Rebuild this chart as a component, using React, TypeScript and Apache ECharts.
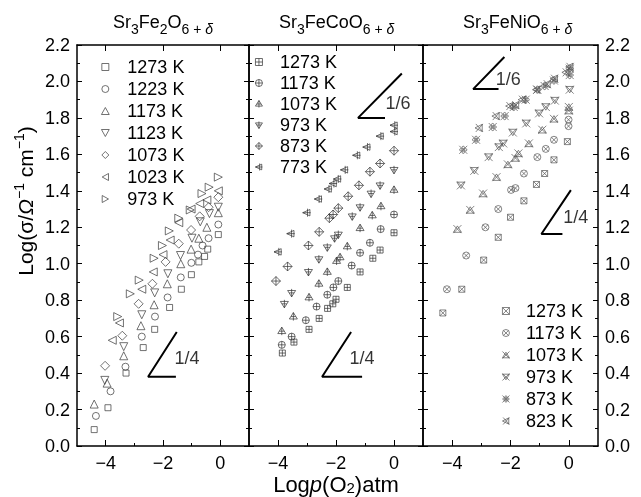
import React, { useEffect, useRef } from 'react';
import * as echarts from 'echarts';

const FONT = "'Liberation Sans', Arial, Helvetica, sans-serif";

// ---------- Panel 1: Sr3Fe2O6+δ ----------
const p1_1273 = [[-4.4,0.09],[-3.92,0.21],[-3.29,0.40],[-2.69,0.54],[-2.29,0.64],[-1.77,0.76],[-1.36,0.86],[-1.01,0.94],[-0.75,1.01],[-0.55,1.04],[-0.44,1.08],[-0.07,1.16]];
const p1_1223 = [[-4.34,0.165],[-3.83,0.30],[-3.31,0.435],[-2.74,0.60],[-2.28,0.71],[-1.84,0.815],[-1.38,0.925],[-1.01,1.005],[-0.78,1.05],[-0.62,1.10],[-0.41,1.14],[-0.07,1.215]];
const p1_1173 = [[-4.40,0.23],[-3.95,0.345],[-3.37,0.495],[-2.77,0.66],[-2.31,0.775],[-1.85,0.89],[-1.38,1.0],[-1.02,1.08],[-0.75,1.14],[-0.47,1.20],[-0.07,1.28]];
const p1_1123 = [[-4.03,0.36],[-3.37,0.545],[-2.74,0.72],[-2.29,0.84],[-1.83,0.945],[-1.39,1.045],[-0.99,1.14],[-0.70,1.23],[-0.38,1.275],[-0.07,1.31]];
const p1_1073 = [[-4.02,0.44],[-3.42,0.605],[-2.85,0.78],[-2.37,0.89],[-1.91,1.01],[-1.45,1.11],[-1.02,1.185],[-0.72,1.26],[-0.41,1.31],[-0.07,1.365]];
const p1_1023 = [[-3.77,0.58],[-3.52,0.675],[-2.74,0.86],[-2.34,0.955],[-2.0,1.05],[-1.75,1.13],[-1.45,1.225],[-1.02,1.30],[-0.72,1.33],[-0.47,1.35],[-0.07,1.40]];
const p1_973 = [[-3.58,0.71],[-3.14,0.835],[-2.83,0.91],[-2.31,1.03],[-2.02,1.10],[-1.78,1.18],[-1.45,1.25],[-1.05,1.295],[-0.64,1.385],[-0.39,1.42],[-0.07,1.475]];

// ---------- Panel 2: Sr3FeCoO6+δ ----------
const p2_1273 = [[-3.85,0.51],[-3.45,0.57],[-2.93,0.64],[-2.58,0.70],[-2.29,0.755],[-2.11,0.78],[-2.0,0.805],[-1.61,0.87],[-1.17,0.955],[-0.73,1.03],[-0.48,1.075],[0.0,1.17]];
const p2_1173 = [[-3.87,0.555],[-3.53,0.60],[-3.04,0.69],[-2.67,0.765],[-2.30,0.83],[-2.09,0.87],[-1.92,0.905],[-1.46,0.99],[-1.17,1.06],[-0.83,1.115],[-0.46,1.19],[0.0,1.27]];
const p2_1073 = [[-3.87,0.63],[-3.47,0.71],[-2.93,0.815],[-2.59,0.89],[-2.30,0.955],[-1.98,1.015],[-1.86,1.035],[-1.61,1.095],[-1.17,1.195],[-0.75,1.265],[-0.45,1.315],[0.0,1.405]];
const p2_973 = [[-3.78,0.78],[-3.53,0.84],[-2.95,0.955],[-2.59,1.025],[-2.30,1.09],[-2.05,1.14],[-1.92,1.16],[-1.44,1.26],[-1.17,1.31],[-0.79,1.385],[-0.48,1.43],[0.0,1.515]];
const p2_873 = [[-4.07,0.905],[-3.67,0.985],[-2.95,1.10],[-2.58,1.175],[-2.23,1.25],[-2.10,1.27],[-1.92,1.305],[-1.58,1.37],[-1.21,1.43],[-0.83,1.505],[-0.48,1.55],[0.0,1.62]];
const p2_773 = [[-4.0,1.065],[-3.56,1.165],[-3.01,1.28],[-2.61,1.355],[-2.27,1.41],[-2.1,1.44],[-1.95,1.465],[-1.71,1.515],[-1.29,1.595],[-0.94,1.64],[-0.48,1.70],[0.0,1.725],[0.0,1.76]];

// ---------- Panel 3: Sr3FeNiO6+δ ----------
const p3_1273 = [[-4.32,0.73],[-3.67,0.86],[-2.92,1.02],[-2.42,1.145],[-2.0,1.255],[-1.54,1.345],[-1.11,1.435],[-0.83,1.495],[-0.51,1.57],[-0.05,1.67]];
const p3_1173 = [[-4.18,0.86],[-3.52,1.045],[-2.86,1.20],[-2.42,1.30],[-1.98,1.405],[-1.83,1.415],[-1.54,1.495],[-1.08,1.585],[-0.79,1.63],[-0.51,1.68],[-0.01,1.755],[-0.01,1.79]];
const p3_1073 = [[-3.82,1.19],[-3.38,1.295],[-2.94,1.385],[-2.48,1.475],[-2.09,1.545],[-1.83,1.58],[-1.73,1.605],[-1.37,1.66],[-0.91,1.735],[-0.51,1.795],[0.0,1.86],[0.0,1.84]];
const p3_973 = [[-3.70,1.43],[-3.24,1.51],[-2.75,1.585],[-2.40,1.64],[-2.25,1.66],[-1.92,1.72],[-1.46,1.77],[-1.02,1.825],[-0.79,1.86],[-0.48,1.895],[0.03,1.955]];
const p3_873 = [[-3.62,1.625],[-3.18,1.68],[-2.61,1.75],[-2.20,1.81],[-1.89,1.86],[-1.48,1.90],[-1.08,1.955],[-0.83,1.975],[-0.51,2.005],[0.03,2.035],[0.03,2.07]];
const p3_823 = [[-3.08,1.745],[-2.50,1.81],[-2.03,1.865],[-1.83,1.87],[-1.60,1.90],[-1.11,1.955],[-0.75,1.985],[-0.50,2.015],[-0.10,2.05],[0.03,2.08]];

// ---------- slope guides (data coords) ----------
const slope1 = [[-1.55,0.38],[-2.52,0.38],[-1.52,0.625]];
const slope2a = [[-0.31,1.80],[-1.24,1.80],[0.27,2.044]];
const slope2b = [[-1.10,0.38],[-2.48,0.38],[-1.48,0.625]];
const slope3a = [[-2.41,1.958],[-3.28,1.958],[-2.21,2.134]];
const slope3b = [[-0.22,1.163],[-0.94,1.163],[0.07,1.404]];
const slopeLabelPos = [[0,-1.62,0.483],[1,-0.31,1.88],[1,-1.55,0.483],[2,-2.52,2.013],[2,-0.21,1.256]];
const slopeLabelText = ['1/4','1/6','1/4','1/6','1/4'];

const xMajor = [-4, -2, 0];
const xMinor = [-3, -1];
const yMin = 0, yMax = 2.2, yStep = 0.2;
const legendLabels1 = ['1273 K','1223 K','1173 K','1123 K','1073 K','1023 K','973 K'];
const legendLabels2 = ['1273 K','1173 K','1073 K','973 K','873 K','773 K'];
const legendLabels3 = ['1273 K','1173 K','1073 K','973 K','873 K','823 K'];

// ---------- symbols ----------
const circ = (cx: number, cy: number, r: number) => `M${cx - r},${cy}A${r},${r},0,1,1,${cx + r},${cy}A${r},${r},0,1,1,${cx - r},${cy}Z`;
const SQ = 'M0,0H20V20H0Z';
const CI = circ(10, 10, 10);
const TU = 'M10,0L20,18L0,18Z';
const TD = 'M0,0L20,0L10,18Z';
const DI = 'M10,0L20,10L10,20L0,10Z';
const TL = 'M0,10L18,0L18,20Z';
const TR = 'M20,10L2,0L2,20Z';
const PLUS = 'M10,0V20M0,10H20';
const XX = 'M0,0L20,20M20,0L0,20';
const sym = (d: string) => 'path://' + d;

const panel1 = [
  { data: p1_1273, symbol: sym(SQ), size: 6 },
  { data: p1_1223, symbol: sym(CI), size: 7 },
  { data: p1_1173, symbol: sym(TU), size: 8 },
  { data: p1_1123, symbol: sym(TD), size: 8 },
  { data: p1_1073, symbol: sym(DI), size: 9 },
  { data: p1_1023, symbol: sym(TL), size: 8 },
  { data: p1_973, symbol: sym(TR), size: 8 },
];
const panel2 = [
  { data: p2_1273, symbol: sym(SQ + PLUS), size: 6 },
  { data: p2_1173, symbol: sym(CI + PLUS), size: 7 },
  { data: p2_1073, symbol: sym('M10,0L20,16L0,16ZM10,0V20M4,10H16'), size: 8 },
  { data: p2_973, symbol: sym('M0,4L20,4L10,20ZM10,0V20M4,10H16'), size: 8 },
  { data: p2_873, symbol: sym(DI + PLUS), size: 9 },
  { data: p2_773, symbol: sym('M0,10L18,2L18,18ZM0,10H20M12,0V20'), size: 8 },
];
const panel3 = [
  { data: p3_1273, symbol: sym(SQ + XX), size: 6 },
  { data: p3_1173, symbol: sym(CI + 'M3,3L17,17M17,3L3,17'), size: 7 },
  { data: p3_1073, symbol: sym('M10,2L20,18L0,18Z' + XX), size: 8 },
  { data: p3_973, symbol: sym('M0,2L20,2L10,18Z' + XX), size: 8 },
  { data: p3_873, symbol: sym(XX + circ(10, 4, 3) + circ(16, 10, 3) + circ(10, 16, 3) + circ(4, 10, 3)), size: 8 },
  { data: p3_823, symbol: sym('M0,10L18,1L18,19Z' + 'M2,0L20,20M20,0L2,20'), size: 8 },
];

const minus = (v: number) => (v < 0 ? '\u2212' + Math.abs(v) : String(v));

export default function App() {
  const ref = useRef<HTMLDivElement>(null);
  useEffect(() => {
    if (!ref.current) return;
    const chart = echarts.init(ref.current, undefined, { renderer: 'svg' });
    const grids = [
      { left: 77, top: 45, width: 172, height: 401 },
      { left: 249, top: 45, width: 174, height: 401 },
      { left: 423, top: 45, width: 175, height: 401 },
    ];

    const frame = { show: true, onZero: false, lineStyle: { color: '#000', width: 1.5 } };
    const noLine = { show: false, onZero: false };
    const xAxis: any[] = [];
    const yAxis: any[] = [];
    for (let g = 0; g < 3; g++) {
      const base = { gridIndex: g, type: 'value', min: -5, max: 1, splitLine: { show: false } };
      xAxis.push({ ...base, position: 'bottom', axisLine: frame,
        axisTick: { show: true, inside: true, length: 6, customValues: xMajor, lineStyle: { color: '#000', width: 1 } },
        axisLabel: { show: true, customValues: xMajor, fontSize: 18, color: '#000', fontFamily: FONT, margin: 8, formatter: minus } });
      xAxis.push({ ...base, position: 'bottom', axisLine: noLine,
        axisTick: { show: true, inside: true, length: 3, customValues: xMinor, lineStyle: { color: '#000', width: 1 } },
        axisLabel: { show: false } });
      xAxis.push({ ...base, position: 'top', axisLine: frame,
        axisTick: { show: true, inside: true, length: 6, customValues: xMajor, lineStyle: { color: '#000', width: 1 } },
        axisLabel: { show: false } });
      const yb = { gridIndex: g, type: 'value', min: yMin, max: yMax, interval: yStep, axisLine: frame,
        splitLine: { show: false }, minorSplitLine: { show: false },
        axisTick: { show: true, inside: true, length: 5, lineStyle: { color: '#000', width: 1 } },
        minorTick: { show: true, splitNumber: 2, length: 3, lineStyle: { color: '#000', width: 1 } } };
      yAxis.push({ ...yb, position: 'left',
        axisLabel: { show: g === 0, fontSize: 18, color: '#000', fontFamily: FONT, margin: 7, formatter: (v: number) => v.toFixed(1) } });
      yAxis.push({ ...yb, position: 'right',
        axisLabel: { show: g === 2, fontSize: 18, color: '#000', fontFamily: FONT, margin: 7, formatter: (v: number) => v.toFixed(1) } });
    }

    const series: any[] = [];
    const panels = [panel1, panel2, panel3];
    const labels = [legendLabels1, legendLabels2, legendLabels3];
    const colors = ['#3a3a3a', '#333', '#555'];
    panels.forEach((p, g) => {
      p.forEach((s, i) => {
        series.push({
          type: 'scatter', name: `p${g + 1} ${labels[g][i]}`, xAxisIndex: g * 3, yAxisIndex: g * 2,
          data: s.data, symbol: s.symbol, symbolSize: s.size, silent: true,
          itemStyle: { color: 'rgba(0,0,0,0)', borderColor: colors[g], borderWidth: 0.9 },
        });
      });
    });
    const slopes = [[0, slope1], [1, slope2a], [1, slope2b], [2, slope3a], [2, slope3b]] as const;
    slopes.forEach(([g, d]) => {
      series.push({ type: 'line', xAxisIndex: (g as number) * 3, yAxisIndex: (g as number) * 2, data: d, symbol: 'none',
        silent: true, lineStyle: { color: '#000', width: 2 } });
    });
    slopeLabelPos.forEach(([g, x, y], i) => {
      series.push({ type: 'scatter', xAxisIndex: g * 3, yAxisIndex: g * 2, data: [[x, y]], symbolSize: 1, silent: true,
        itemStyle: { color: 'rgba(0,0,0,0)' },
        label: { show: true, position: 'right', distance: 0, formatter: slopeLabelText[i], fontSize: 18, color: '#000', fontFamily: FONT } });
    });

    const legBase = { orient: 'vertical', padding: 0, itemHeight: 7, selectedMode: false,
      textStyle: { fontSize: 18, color: '#000', fontFamily: FONT, lineHeight: 20 },
      itemStyle: { borderWidth: 0.9 }, formatter: (n: string) => n.slice(3) };
    const legend = [
      { ...legBase, left: 101, top: 57, itemWidth: 34, itemGap: 2, data: legendLabels1.map((l) => 'p1 ' + l) },
      { ...legBase, left: 255, top: 52, itemWidth: 32, itemGap: 1, data: legendLabels2.map((l) => 'p2 ' + l) },
      { ...legBase, left: 502, top: 301, itemWidth: 30, itemGap: 2, data: legendLabels3.map((l) => 'p3 ' + l) },
    ];

    const subRich = {
      n: { fontSize: 18, lineHeight: 28, verticalAlign: 'middle', fontFamily: FONT, color: '#000' },
      s: { fontSize: 14, lineHeight: 10, verticalAlign: 'bottom', fontFamily: FONT, color: '#000' },
      si: { fontSize: 14, lineHeight: 10, verticalAlign: 'bottom', fontFamily: FONT, fontStyle: 'italic', color: '#000' },
    };
    const title = (x: number, mid: string) => ({
      type: 'text', x, y: 22, silent: true,
      style: { text: `{n|Sr}{s|3}{n|${mid}}{n|O}{s|6 + }{si|δ}`, rich: subRich, align: 'left', verticalAlign: 'middle' },
    });
    const richY = {
      n: { fontSize: 21, lineHeight: 26, verticalAlign: 'middle', fontFamily: FONT, color: '#000' },
      i: { fontSize: 21, lineHeight: 26, verticalAlign: 'middle', fontFamily: FONT, fontStyle: 'italic', color: '#000' },
      sup: { fontSize: 14, lineHeight: 12, verticalAlign: 'top', fontFamily: FONT, color: '#000' },
    };
    const richX = {
      n: { fontSize: 22, lineHeight: 22, verticalAlign: 'middle', fontFamily: FONT, color: '#000' },
      i: { fontSize: 22, lineHeight: 22, verticalAlign: 'middle', fontFamily: FONT, fontStyle: 'italic', color: '#000' },
      s: { fontSize: 15, lineHeight: 10, verticalAlign: 'bottom', fontFamily: FONT, color: '#000' },
    };

    chart.setOption({
      animation: false,
      textStyle: { fontFamily: FONT },
      grid: grids,
      xAxis,
      yAxis,
      legend,
      series,
      graphic: [
        { type: 'group', children: [
          { type: 'text', x: 113, y: 22, silent: true, style: { text: '{n|Sr}{s|3}{n|Fe}{s|2}{n|O}{s|6 + }{si|δ}', rich: subRich, align: 'left', verticalAlign: 'middle' } },
          title(279, 'FeCo'),
          title(463, 'FeNi'),
          { type: 'text', x: 25, y: 201, rotation: Math.PI / 2, silent: true,
            style: { text: '{n|Log(σ/}{i|Ω}{sup|\u22121}{n| cm}{sup|\u22121}{n|)}', rich: richY, align: 'center', verticalAlign: 'middle' } },
          { type: 'text', x: 336, y: 484, silent: true,
            style: { text: '{n|Log}{i|p}{n|(O}{s|2}{n|)atm}', rich: richX, align: 'center', verticalAlign: 'middle' } },
        ] },
      ],
    });
    return () => chart.dispose();
  }, []);
  return <div ref={ref} style={{ position: 'fixed', left: 0, top: 0, width: 641, height: 497 }} />;
}
